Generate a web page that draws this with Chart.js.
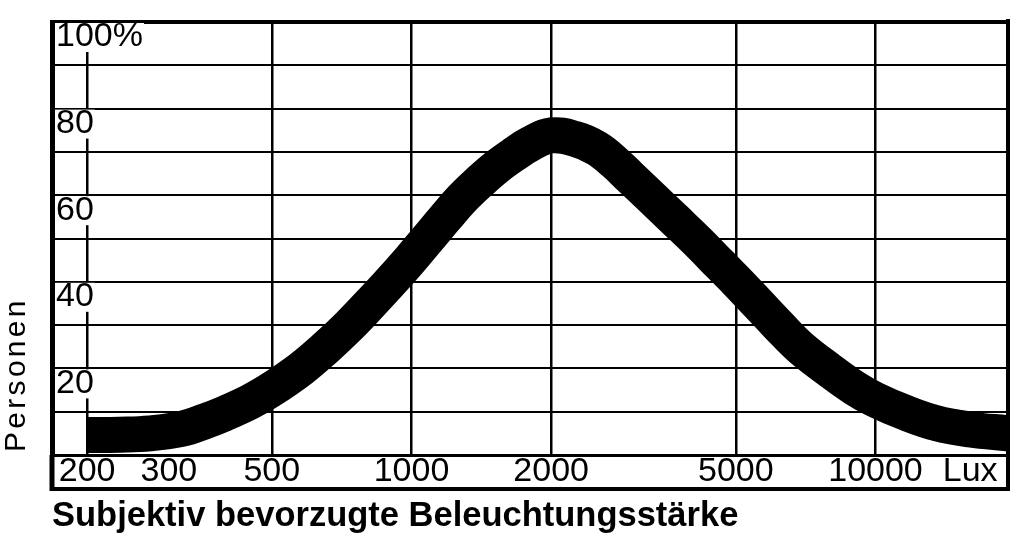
<!DOCTYPE html>
<html>
<head>
<meta charset="utf-8">
<title>Subjektiv bevorzugte Beleuchtungsstärke</title>
<script src="https://cdn.jsdelivr.net/npm/chart.js"></script>
<style>
    html, body { margin: 0; padding: 0; background: #fff; }
</style>
</head>
<body>
<canvas id="luxChart" width="1024" height="544"></canvas>

<script>
    // values (Lux on a log axis, share of persons in %)
    const luxValues = [
        200, 235, 273, 319, 359, 396, 449, 495, 578, 651, 733, 814, 894, 993,
        1085, 1181, 1285, 1405, 1529, 1672, 1800, 2000,
        2251, 2511, 2745, 2957, 3266, 3698, 4145, 4623, 5054, 5583, 6165, 6876,
        7979, 9034, 9977, 11575, 13567, 15981, 19300
    ];
    const personPercent = [
        4.6, 4.7, 5.0, 6.0, 7.8, 9.6, 12.3, 14.9, 19.9, 24.6, 29.8, 34.9, 39.6, 45.1,
        50.0, 54.7, 59.2, 63.2, 66.6, 69.6, 71.8, 73.8,
        73.0, 70.8, 67.5, 64.2, 59.8, 54.3, 49.2, 44.0, 39.8, 34.9, 30.0, 24.9,
        19.5, 15.4, 12.8, 9.8, 7.3, 5.9, 5.0
    ];

    const xTickValues = [200, 300, 500, 1000, 2000, 5000, 10000];
    const yLabelValues = [20, 40, 60, 80, 100];
    const xUnit = 'Lux';
    const xTitle = 'Subjektiv bevorzugte Beleuchtungsstärke';
    const yTitle = 'Personen';

    const unitAt = 16000;   // spot on the axis where "Lux" is printed
    const noLine = [300, unitAt];
    const fontFamily = '"Liberation Sans", Arial, sans-serif';

    // outer frame below the tick strip and the spaced-out side label
    const frame = {
        id: 'frame',
        afterDraw(chart) {
            const {ctx, chartArea: a} = chart;
            ctx.save();
            ctx.strokeStyle = '#000';
            ctx.lineWidth = 4;
            ctx.beginPath();
            ctx.moveTo(a.right, a.top - 3);
            ctx.lineTo(a.right, 491);
            ctx.moveTo(a.left - 2, 489);
            ctx.lineTo(a.right + 2, 489);
            ctx.stroke();
            ctx.lineWidth = 5;
            ctx.beginPath();
            ctx.moveTo(a.left, a.bottom);
            ctx.lineTo(a.left, 491);
            ctx.stroke();

            ctx.translate(25, 452);
            ctx.rotate(-Math.PI / 2);
            ctx.fillStyle = '#000';
            ctx.font = '30px ' + fontFamily;
            ctx.letterSpacing = '3.3px';
            ctx.textBaseline = 'alphabetic';
            ctx.fillText(yTitle, 0, 0);
            ctx.restore();
        }
    };

    const ctx = document.getElementById('luxChart').getContext('2d');
    new Chart(ctx, {
        type: 'line',
        data: {
            datasets: [{
                data: luxValues.map((v, i) => ({x: v, y: personPercent[i]})),
                borderColor: '#000',
                borderWidth: 36,
                borderCapStyle: 'butt',
                borderJoinStyle: 'round',
                tension: 0.4,
                pointRadius: 0,
                fill: false
            }]
        },
        options: {
            responsive: false,
            animation: false,
            layout: { padding: { top: 22, right: 16, left: 0, bottom: 0 } },
            plugins: {
                legend: { display: false },
                tooltip: { enabled: false }
            },
            scales: {
                x: {
                    type: 'logarithmic',
                    min: 168,
                    max: 19300,
                    bounds: 'data',
                    afterBuildTicks: s => { s.ticks = [...xTickValues, unitAt].map(v => ({value: v})); },
                    afterFit: s => { s.height = 89; },
                    grid: {
                        color: c => (c.tick && noLine.includes(c.tick.value)) ? 'rgba(0,0,0,0)' : '#000',
                        lineWidth: 2.5,
                        drawTicks: false
                    },
                    border: { color: '#000', width: 3 },
                    ticks: {
                        autoSkip: false,
                        maxRotation: 0,
                        padding: 0,
                        color: '#000',
                        font: { family: fontFamily, size: 34, lineHeight: 1 },
                        callback: v => v === unitAt ? xUnit : String(v)
                    },
                    title: {
                        display: true,
                        text: xTitle,
                        align: 'start',
                        color: '#000',
                        font: { family: fontFamily, size: 34.5, weight: 'bold', lineHeight: 1 },
                        padding: { top: 0, bottom: 10 }
                    }
                },
                y: {
                    min: 0,
                    max: 100,
                    afterFit: s => { s.width = 52; },
                    grid: {
                        color: '#000',
                        lineWidth: c => (c.tick && c.tick.value === 100) ? 4 : 2,
                        drawTicks: false
                    },
                    border: { color: '#000', width: 5 },
                    ticks: {
                        stepSize: 10,
                        autoSkip: false,
                        mirror: true,
                        padding: 4,
                        labelOffset: 15,
                        color: '#000',
                        font: { family: fontFamily, size: 34, lineHeight: 1 },
                        callback: v => yLabelValues.includes(v) ? (v === 100 ? '100%' : String(v)) : '',
                        showLabelBackdrop: c => yLabelValues.includes(c.tick.value),
                        backdropColor: '#fff',
                        backdropPadding: { top: -3, bottom: -2, left: 1, right: 1 }
                    }
                }
            }
        },
        plugins: [frame]
    });
</script>
</body>
</html>
